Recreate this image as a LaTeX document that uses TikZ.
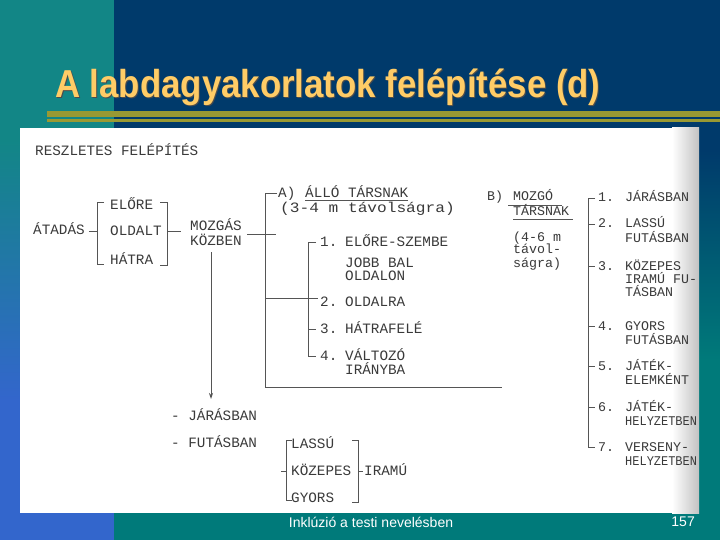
\documentclass[tikz,border=0pt]{standalone}
\usepackage{graphicx}
\usepackage{fontspec}
\setmainfont{Liberation Sans}
\newfontfamily\typew{Liberation Mono}
\usetikzlibrary{arrows.meta}
\definecolor{navy}{HTML}{003A6B}
\definecolor{tealbg}{HTML}{007A7A}
\definecolor{stripteal}{HTML}{128686}
\definecolor{stripblue}{HTML}{3366CC}
\definecolor{olive}{HTML}{999933}
\definecolor{titlecol}{HTML}{FFCC66}
\definecolor{ink}{HTML}{3A3A3A}
\definecolor{rulec}{HTML}{555555}
\begin{document}
\begin{tikzpicture}[x=1pt,y=-1pt,
  tw/.style={font=\typew\fontsize{14.3}{16}\selectfont, text=ink, inner sep=0pt, anchor=base west},
  twb/.style={font=\typew\fontsize{13.3}{15}\selectfont, text=ink, inner sep=0pt, anchor=base west},
  br/.style={draw=rulec, line width=0.85pt},
  ul/.style={draw=rulec, line width=0.8pt},
]
\useasboundingbox (0,0) rectangle (720,540);
% background
\fill[navy] (114,0) rectangle (720,150);
\shade[top color=navy,bottom color=tealbg] (114,150) rectangle (720,360);
\fill[tealbg] (114,360) rectangle (720,540);
\fill[stripteal] (0,0) rectangle (114,140);
\shade[top color=stripteal,bottom color=stripblue] (0,140) rectangle (114,400);
\fill[stripblue] (0,400) rectangle (114,540);
% title rules
\fill[olive] (47,111) rectangle (720,117.5);
\fill[olive] (47,119) rectangle (720,122);
% title
\node[anchor=base west, inner sep=0pt, text=black!70, font=\fontsize{34.8}{40}\selectfont\bfseries] (titleshadow) at (56,99) {\scalebox{1}[1.12]{A labdagyakorlatok felépítése (d)}};
\node[anchor=base west, inner sep=0pt, text=titlecol, font=\fontsize{34.8}{40}\selectfont\bfseries] (title) at (55,98) {\scalebox{1}[1.12]{A labdagyakorlatok felépítése (d)}};
% scanned sheet
\fill[white] (20,128) rectangle (699,513);
\shade[left color=white, right color=black!24] (672,128) rectangle (699,513);
% footer
\node[font=\fontsize{14}{16}\selectfont, text=white, inner sep=0pt] (foot) at (371,522) {Inklúzió a testi nevelésben};
\node[font=\fontsize{14}{16}\selectfont, text=white, inner sep=0pt, anchor=east] (page) at (695,522) {157};

% ---- diagram ----
\node[tw] (hdr) at (35,156) {RESZLETES FELÉPÍTÉS};
\node[tw] (atadas) at (33,235) {ÁTADÁS};
\node[tw] (elore) at (110,210) {ELŐRE};
\node[tw] (oldalt) at (110,236) {OLDALT};
\node[tw] (hatra) at (110,264) {HÁTRA};
\node[tw] (mozgas) at (190,230) {MOZGÁS};
\node[tw] (kozben) at (190,245) {KÖZBEN};

% left bracket
\coordinate (lbT) at (97,202);
\coordinate (lbB) at (97,264);
\coordinate (lbM) at (97,231);
\draw[br] (104,202) -- (lbT) -- (lbB) -- (104,264);
\draw[br] ([xshift=4pt]atadas.east |- lbM) -- (lbM);
% right bracket
\coordinate (rbT) at (167,202);
\coordinate (rbB) at (167,265);
\coordinate (rbM) at (167,231);
\coordinate (rbOut) at (181,231);
\draw[br] (160,202) -- (rbT) -- (rbB) -- (160,265);
\draw[br] (rbM) -- (rbOut);

% MOZGAS KOZBEN -> A branch
\coordinate (mkR) at (247,234);
\coordinate (mkX) at (276,234);
\draw[br] (mkR) -- (mkX);
\coordinate (aT) at (265,193);
\coordinate (aB) at (265,387);
\coordinate (aEnd) at (502,387);
\draw[br] (277,193) -- (aT) -- (aB) -- (aEnd);
\coordinate (aMid) at (265,298);
\coordinate (aMidR) at (318,298);
\draw[br] (aMid) -- (aMidR);
% inner bracket
\coordinate (iT) at (308,242);
\coordinate (iB) at (308,356);
\draw[br] (316,242) -- (iT) -- (iB) -- (316,356);
\draw[br] (308,329) -- (316,329);

% A texts
\node[tw] (Alab) at (278,197) {A)};
\node[tw] (allo) at (305,197) {ÁLLÓ TÁRSNAK};
\draw[ul] ([yshift=-3pt]allo.base west) -- ([yshift=-3pt]allo.base east);
\node[tw] (tav) at (280,213) {\scalebox{1.13}[1]{(3-4 m távolságra)}};
\node[tw] (n1) at (320,246) {1.};
\node[tw] (t1) at (345,246) {ELŐRE-SZEMBE};
\node[tw] (t1b) at (345,267) {JOBB BAL};
\node[tw] (t1c) at (345,280) {OLDALON};
\node[tw] (n2) at (320,306) {2.};
\node[tw] (t2) at (345,306) {OLDALRA};
\node[tw] (n3) at (320,333) {3.};
\node[tw] (t3) at (345,333) {HÁTRAFELÉ};
\node[tw] (n4) at (320,360) {4.};
\node[tw] (t4) at (345,360) {VÁLTOZÓ};
\node[tw] (t4b) at (345,374) {IRÁNYBA};

% down arrow
\coordinate (arT) at (211,252);
\coordinate (arB) at (211,399);
\draw[br,-{Stealth[length=6pt,width=4pt]}] (arT) -- (arB);
\node[tw] (jaras) at (171,420) {- JÁRÁSBAN};
\node[tw] (futas) at (171,447) {- FUTÁSBAN};

% speed bracket
\draw[br] (292,440) -- (286,440) -- (286,500) -- (292,500);
\draw[br] (281,471) -- (286,471);
\node[tw] (lasso) at (291,448) {LASSÚ};
\node[tw] (kozepes) at (291,475) {KÖZEPES};
\node[tw] (gyors) at (291,502) {GYORS};
\draw[br] (352,440) -- (358,440) -- (358,502) -- (352,502);
\draw[br] (358,471) -- (363,471);
\node[tw] (iramu) at (364,475) {IRAMÚ};

% B texts
\node[twb] (Blab) at (487,201) {B)};
\node[twb] (mozgo) at (513,201) {MOZGÓ};
\draw[ul] (508,205) -- (562,205);
\node[twb] (tarsnak) at (513,215) {TÁRSNAK};
\draw[ul] (513,219) -- (573,219);
\node[twb] (b46) at (513,241) {(4-6 m};
\node[twb] (btav) at (513,254) {távol-};
\node[twb] (bsag) at (513,267) {ságra)};

% B list bracket
\coordinate (bT) at (588,198);
\coordinate (bB) at (588,447);
\draw[br] (595,198) -- (bT) -- (bB) -- (595,447);
\foreach \yy in {224,266,326,366,407} \draw[br] (588,\yy) -- (595,\yy);
\node[twb] (m1) at (598,202) {1.};
\node[twb] (s1) at (625,202) {JÁRÁSBAN};
\node[twb] (m2) at (598,228) {2.};
\node[twb] (s2) at (625,228) {LASSÚ};
\node[twb] (s2b) at (625,242) {FUTÁSBAN};
\node[twb] (m3) at (598,270) {3.};
\node[twb] (s3) at (625,270) {KÖZEPES};
\node[twb] (s3b) at (625,283) {IRAMÚ FU-};
\node[twb] (s3c) at (625,296) {TÁSBAN};
\node[twb] (m4) at (598,330) {4.};
\node[twb] (s4) at (625,330) {GYORS};
\node[twb] (s4b) at (625,344) {FUTÁSBAN};
\node[twb] (m5) at (598,370) {5.};
\node[twb] (s5) at (625,370) {JÁTÉK-};
\node[twb] (s5b) at (625,384) {ELEMKÉNT};
\node[twb] (m6) at (598,411) {6.};
\node[twb] (s6) at (625,411) {JÁTÉK-};
\node[twb] (s6b) at (625,425) {\scalebox{0.9}[1]{HELYZETBEN}};
\node[twb] (m7) at (598,451) {7.};
\node[twb] (s7) at (625,451) {VERSENY-};
\node[twb] (s7b) at (625,465) {\scalebox{0.9}[1]{HELYZETBEN}};
\end{tikzpicture}
\end{document}
